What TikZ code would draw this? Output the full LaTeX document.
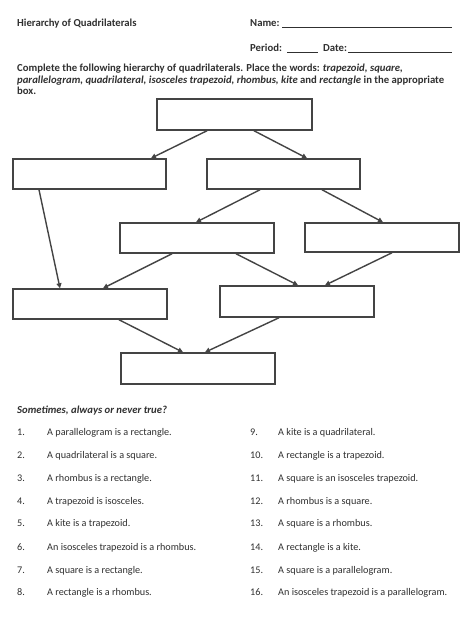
\documentclass[tikz,border=0pt]{standalone}
\usepackage{fontspec}
\setmainfont{Carlito}
\usetikzlibrary{arrows.meta}
\definecolor{ink}{HTML}{303030}
\definecolor{boxline}{HTML}{444444}
\begin{document}
\begin{tikzpicture}[x=1pt,y=-1pt,
  box/.style={draw=boxline,line width=1.5pt,rectangle,inner sep=0pt,minimum width=154pt,minimum height=30pt},
  arr/.style={draw=boxline,line width=1.4pt,-{Triangle[length=5pt,width=5pt]}},
  hd/.style={anchor=base west,inner sep=0pt,font=\fontsize{10.7}{12}\selectfont\bfseries,text=ink},
  it/.style={anchor=base west,inner sep=0pt,font=\fontsize{10.2}{12}\selectfont,text=ink},
  uline/.style={draw=ink,line width=0.7pt}]
\useasboundingbox (0,0) rectangle (474,620);
\fill[white] (0,0) rectangle (474,620);
% header
\node[hd] (title) at (17,26.5) {Hierarchy of Quadrilaterals};
\node[hd] (name) at (250,26.5) {Name:};
\draw[uline] (282,27) -- (452,27);
\node[hd] (period) at (250,51.5) {Period:};
\draw[uline] (287,52) -- (318,52);
\node[hd] (date) at (323,51.5) {Date:};
\draw[uline] (348,52) -- (452,52);
\node[hd] (ins1) at (17,71.5) {Complete the following hierarchy of quadrilaterals. Place the words: \textit{trapezoid, square,}};
\node[hd] (ins2) at (17,83.5) {\textit{parallelogram, quadrilateral, isosceles trapezoid, rhombus, kite} and \textit{rectangle} in the appropriate};
\node[hd] (ins3) at (17,95) {box.};
% boxes
\node[box,minimum width=155pt,minimum height=31pt] (A) at (234.5,114.5) {};
\node[box,minimum width=153pt] (B) at (89.5,174) {};
\node[box,minimum width=153pt] (C) at (283.5,174) {};
\node[box] (D) at (197,238) {};
\node[box,minimum height=29pt] (E) at (382,237.5) {};
\node[box] (F) at (90,304) {};
\node[box,minimum height=31pt] (G) at (297,301.5) {};
\node[box,minimum height=31pt] (H) at (198,368.5) {};
% arrows
\draw[arr] ([xshift=-27.5pt]A.south) -- ([xshift=61.5pt]B.north);
\draw[arr] ([xshift=19.5pt]A.south) -- ([xshift=23.5pt]C.north);
\draw[arr] ([xshift=-50.5pt]B.south) -- ([xshift=-30pt]F.north);
\draw[arr] ([xshift=-23.5pt]C.south) -- ([xshift=-1pt]D.north);
\draw[arr] ([xshift=38.5pt]C.south) -- ([xshift=1pt]E.north);
\draw[arr] ([xshift=-25pt]D.south) -- ([xshift=13pt]F.north);
\draw[arr] ([xshift=39pt]D.south) -- ([xshift=1pt]G.north);
\draw[arr] ([xshift=10pt]E.south) -- ([xshift=28pt]G.north);
\draw[arr] ([xshift=29pt]F.south) -- ([xshift=-15pt]H.north);
\draw[arr] ([xshift=-18pt]G.south) -- ([xshift=7pt]H.north);
% questions
\node[hd] (q) at (17,413.5) {\itshape Sometimes, always or never true?};
\foreach \n/\t/\y in {1/A parallelogram is a rectangle./435,
  2/A quadrilateral is a square./458,
  3/A rhombus is a rectangle./481,
  4/A trapezoid is isosceles./504,
  5/A kite is a trapezoid./526,
  6/An isosceles trapezoid is a rhombus./550,
  7/A square is a rectangle./573,
  8/A rectangle is a rhombus./595}{
  \node[it] (n\n) at (17,\y) {\n.};
  \node[it] (t\n) at (47,\y) {\t};
}
\foreach \n/\t/\y in {9/A kite is a quadrilateral./435,
  10/A rectangle is a trapezoid./458,
  11/A square is an isosceles trapezoid./481,
  12/A rhombus is a square./504,
  13/A square is a rhombus./526,
  14/A rectangle is a kite./550,
  15/A square is a parallelogram./573,
  16/An isosceles trapezoid is a parallelogram./595}{
  \node[it] (n\n) at (250,\y) {\n.};
  \node[it] (t\n) at (278,\y) {\t};
}
\end{tikzpicture}
\end{document}
